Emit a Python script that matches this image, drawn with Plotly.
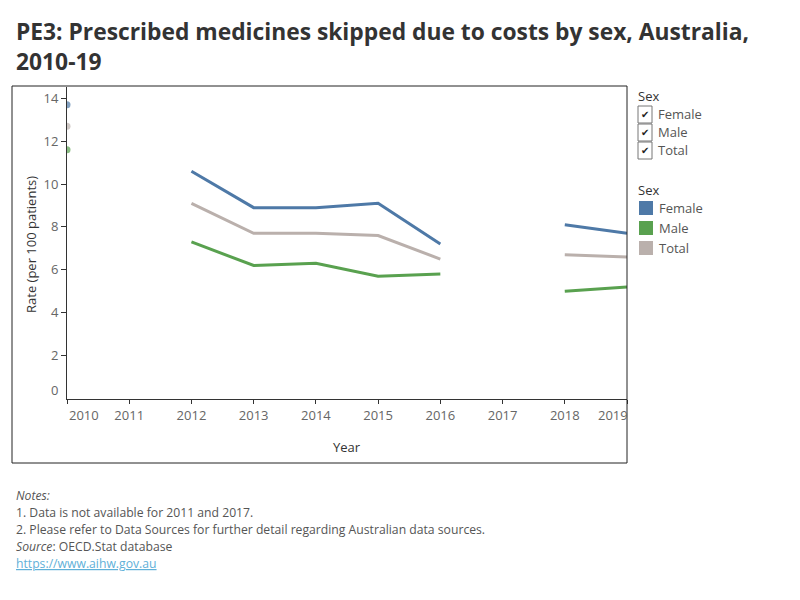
import plotly.graph_objects as go

# ---- data ----
years = [2010, 2011, 2012, 2013, 2014, 2015, 2016, 2017, 2018, 2019]
female = [13.7, None, 10.6, 8.9, 8.9, 9.1, 7.2, None, 8.1, 7.7]
male = [11.6, None, 7.3, 6.2, 6.3, 5.7, 5.8, None, 5.0, 5.2]
total = [12.7, None, 9.1, 7.7, 7.7, 7.6, 6.5, None, 6.7, 6.6]
series_names = ["Female", "Male", "Total"]
series_colors = ["#4e79a7", "#59a14f", "#bab0ac"]
y_ticks = [0, 2, 4, 6, 8, 10, 12, 14]

title = "PE3: Prescribed medicines skipped due to costs by sex, Australia,<br>2010-19"
notes = [
    "<i>Notes:</i>",
    "1. Data is not available for 2011 and 2017.",
    "2. Please refer to Data Sources for further detail regarding Australian data sources.",
    "<i>Source</i>: OECD.Stat database",
]
link_text = "https://www.aihw.gov.au"

# ---- layout geometry (pixels) ----
W, H = 800, 600
L, R, T, B = 67, 627, 87, 399
FONT = "Open Sans"
TICK_COL = "#666666"
TXT_COL = "#333333"


def px(x):
    return (x - L) / (R - L)


def py(y):
    return (B - y) / (B - T)


fig = go.Figure()

for name, vals, col in zip(series_names, [female, male, total], series_colors):
    sizes = []
    for i, v in enumerate(vals):
        prev_none = i == 0 or vals[i - 1] is None
        next_none = i == len(vals) - 1 or vals[i + 1] is None
        sizes.append(7 if (v is not None and prev_none and next_none) else 0)
    fig.add_trace(go.Scatter(
        x=years, y=vals, name=name, mode="lines+markers",
        line=dict(color=col, width=3),
        marker=dict(size=sizes, color=col, line=dict(width=0)),
        connectgaps=False, showlegend=False,
    ))

fig.update_layout(
    width=W, height=H,
    margin=dict(l=L, r=W - R, t=T, b=H - B),
    paper_bgcolor="white", plot_bgcolor="white",
    font=dict(family=FONT, color=TICK_COL, size=13),
    xaxis=dict(
        range=[2010, 2019], tickvals=years,
        ticktext=["" if y in (2010, 2019) else str(y) for y in years],
        showgrid=False, zeroline=False, showline=True, linecolor="#333333", linewidth=1,
        ticks="outside", ticklen=4, tickcolor="#333333",
        tickfont=dict(size=13, color=TICK_COL),
    ),
    yaxis=dict(
        range=[-0.03, 14.53], tickvals=y_ticks[1:],
        showgrid=False, zeroline=False, showline=True, linecolor="#333333", linewidth=1,
        ticks="outside", ticklen=5, tickcolor="#333333",
        tickfont=dict(size=13, color=TICK_COL),
    ),
)

ann = []


def text(x, y, s, size=13, color=TICK_COL, xanchor="center", yanchor="middle", xref="paper", **kw):
    ann.append(dict(x=x if xref != "paper" else px(x), y=py(y), xref=xref, yref="paper",
                    text=s, showarrow=False, xanchor=xanchor, yanchor=yanchor,
                    font=dict(size=size, color=color), **kw))


# edge tick labels shifted inward like the reference
text(years[0], 415, str(years[0]), xref="x", xshift=17)
text(years[-1], 415, str(years[-1]), xref="x", xshift=-14)
text(60, 390, str(y_ticks[0]), xanchor="right")
# axis titles
text(347, 447, "Year", color=TXT_COL)
text(31, 245, "Rate (per 100 patients)", color=TXT_COL, textangle=-90)
# title
text(14, 14, "<b>" + title + "</b>", size=22.8, color=TXT_COL, xanchor="left", yanchor="top",
     align="left")
# notes
ny = 495
for line in notes:
    text(14, ny, line, size=12.2, color="#555555", xanchor="left")
    ny += 17
text(14, ny, "<u>" + link_text + "</u>", size=12.2, color="#5fb0d8", xanchor="left")

shapes = []
# outer frame
shapes.append(dict(type="rect", xref="paper", yref="paper",
                   x0=px(12), x1=px(627), y0=py(86), y1=py(463),
                   line=dict(color="#222222", width=1), fillcolor="rgba(0,0,0,0)"))

# checkbox legend
text(636, 96, "Sex", color=TXT_COL, xanchor="left")
for i, name in enumerate(series_names):
    cy = 114 + 18 * i
    shapes.append(dict(type="rect", xref="paper", yref="paper",
                       x0=px(638), x1=px(652), y0=py(cy - 8), y1=py(cy + 9),
                       line=dict(color="#777777", width=1), fillcolor="white"))
    text(645, cy, "✔", size=10, color="#222222")
    text(656, cy, name, color="#555555", xanchor="left")

# colour legend
text(636, 190, "Sex", color=TXT_COL, xanchor="left")
for i, (name, col) in enumerate(zip(series_names, series_colors)):
    cy = 208 + 20 * i
    shapes.append(dict(type="rect", xref="paper", yref="paper",
                       x0=px(639), x1=px(653), y0=py(cy - 7), y1=py(cy + 7),
                       line=dict(width=0), fillcolor=col))
    text(657, cy, name, color="#555555", xanchor="left")

fig.update_layout(annotations=ann, shapes=shapes)
fig.write_html("out.html")
